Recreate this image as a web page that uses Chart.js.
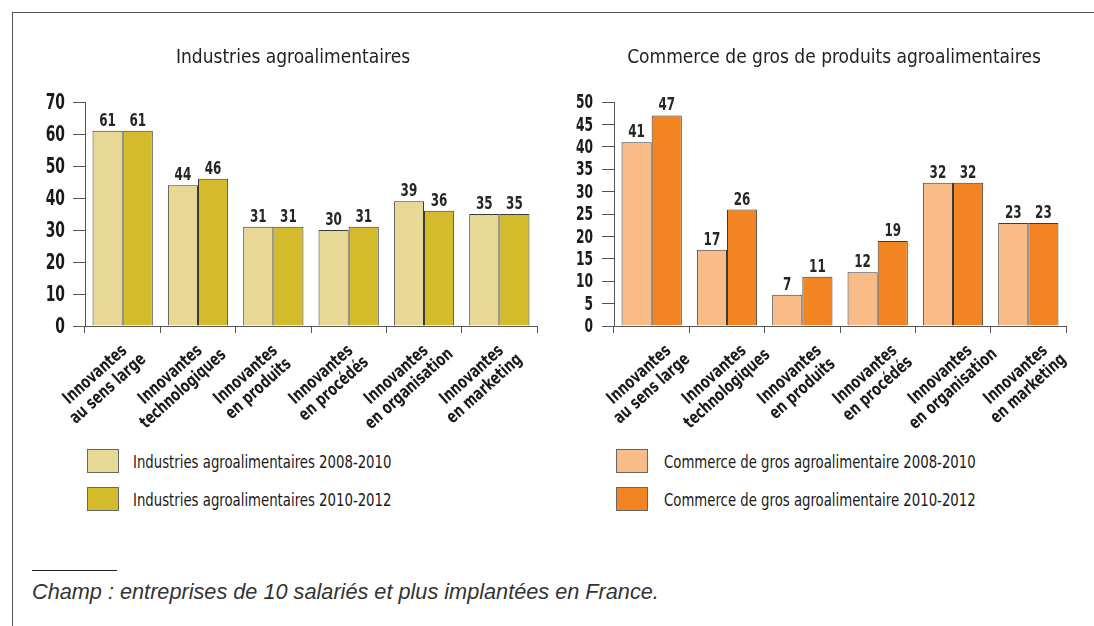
<!DOCTYPE html>
<html><head><meta charset="utf-8">
<script src="https://cdn.jsdelivr.net/npm/chart.js@4.4.0/dist/chart.umd.min.js"></script>
<style>
html,body{margin:0;padding:0;background:#fff;width:1094px;height:626px;overflow:hidden;position:relative;font-family:"DejaVu Sans Condensed",sans-serif;}
#frameTop{position:absolute;left:12px;top:12px;width:1082px;height:0;border-top:1px solid #555;}
#frameLeft{position:absolute;left:12px;top:12px;width:0;height:614px;border-left:1px solid #555;}
canvas{position:absolute;top:0;}
#c1{left:20px;}
#c2{left:574px;}
.item{position:absolute;height:24px;display:flex;align-items:center;font-size:18px;color:#1a1a1a;white-space:nowrap;}
.sw{width:30px;height:22px;border:1px solid #666;flex:none;}
.item span{display:inline-block;transform:scaleX(0.82);transform-origin:left center;}
#note{position:absolute;left:32px;top:579px;font-family:"Liberation Sans",Arial,sans-serif;font-style:italic;font-size:21.7px;color:#333;white-space:nowrap;}
#noteLine{position:absolute;left:32px;top:570px;width:85px;border-top:1px solid #222;}
</style></head>
<body>
<div id="frameTop"></div><div id="frameLeft"></div>
<canvas id="c1" width="546" height="440"></canvas>
<canvas id="c2" width="520" height="440"></canvas>
<div id="legends"></div>
<div id="noteLine"></div>
<div id="note">Champ : entreprises de 10 salariés et plus implantées en France.</div>
<script>
const categories = [
  ["Innovantes","au sens large"],
  ["Innovantes","technologiques"],
  ["Innovantes","en produits"],
  ["Innovantes","en procédés"],
  ["Innovantes","en organisation"],
  ["Innovantes","en marketing"]
];
const iaaTitle = "Industries agroalimentaires";
const cgTitle = "Commerce de gros de produits agroalimentaires";
const iaaNames = ["Industries agroalimentaires 2008-2010","Industries agroalimentaires 2010-2012"];
const cgNames = ["Commerce de gros agroalimentaire 2008-2010","Commerce de gros agroalimentaire 2010-2012"];
const iaa2008 = [61,44,31,30,39,35];
const iaa2010 = [61,46,31,31,36,35];
const cg2008 = [41,17,7,12,32,23];
const cg2010 = [47,26,11,19,32,23];
const iaaColors = ["#E8D896","#D3BB2B"];
const cgColors = ["#F9BC88","#F28522"];

const FONT = '"DejaVu Sans Condensed","DejaVu Sans",sans-serif';

// Draws value labels, y tick labels and x category labels in a condensed style,
// at positions given by the chart's own scales.
const condensedText = {
  id:'condensedText',
  afterDatasetsDraw(chart, args, o){
    const ctx = chart.ctx;
    ctx.save();
    ctx.fillStyle = '#262626';
    ctx.font = 'bold 18px ' + FONT;
    ctx.textAlign = 'center';
    ctx.textBaseline = 'alphabetic';
    chart.data.datasets.forEach((ds,i)=>{
      chart.getDatasetMeta(i).data.forEach((bar,j)=>{
        ctx.save();
        ctx.translate(bar.x, bar.y - 5);
        ctx.scale(0.74,1);
        ctx.fillText(String(ds.data[j]), 0, 0);
        ctx.restore();
      });
    });
    ctx.restore();
  },
  afterDraw(chart, args, o){
    const ctx = chart.ctx;
    const ys = chart.scales.y, xs = chart.scales.x;
    ctx.save();
    ctx.fillStyle = '#1a1a1a';
    ctx.font = 'bold ' + o.ySize + 'px ' + FONT;
    ctx.textAlign = 'right';
    ctx.textBaseline = 'middle';
    ys.ticks.forEach((t,i)=>{
      ctx.save();
      ctx.translate(ys.right - o.yGap, ys.getPixelForTick(i) + 1);
      ctx.scale(o.yScale,1);
      ctx.fillText(t.label, 0, 0);
      ctx.restore();
    });
    ctx.font = 'bold ' + o.xSize + 'px ' + FONT;
    ctx.textAlign = 'center';
    ctx.textBaseline = 'middle';
    xs.ticks.forEach((t,i)=>{
      const lines = [].concat(t.label);
      ctx.save();
      ctx.translate(xs.getPixelForTick(i) + o.xdx, xs.top + o.xdy);
      ctx.rotate(-o.angle*Math.PI/180);
      ctx.scale(o.xScale,1);
      const n = lines.length;
      lines.forEach((l,k)=> ctx.fillText(l, 0, (k-(n-1)/2)*o.lh));
      ctx.restore();
    });
    ctx.restore();
  }
};

function makeChart(id, title, names, s1, s2, colors, max, step, padLeft, yWidth, padRight, textOpts){
  return new Chart(document.getElementById(id), {
    type:'bar',
    data:{
      labels: categories,
      datasets:[
        {label:names[0], data:s1, backgroundColor:colors[0], borderColor:'#3a3a3a', borderWidth:1, barPercentage:1.0, categoryPercentage:0.8},
        {label:names[1], data:s2, backgroundColor:colors[1], borderColor:'#3a3a3a', borderWidth:1, barPercentage:1.0, categoryPercentage:0.8}
      ]
    },
    options:{
      responsive:false,
      animation:false,
      devicePixelRatio:1,
      layout:{padding:{left:padLeft,right:padRight,top:0,bottom:0}},
      plugins:{
        legend:{display:false},
        tooltip:{enabled:false},
        title:{display:true,text:title,color:'#222',font:{family:FONT,size:19,weight:'normal'},padding:{top:47,bottom:32.2}},
        condensedText:textOpts
      },
      scales:{
        x:{
          grid:{offset:true,drawOnChartArea:false,drawTicks:true,tickLength:7,color:'#555'},
          border:{display:true,color:'#555',width:1},
          ticks:{display:false,autoSkip:false},
          afterFit(s){ s.height = 114; s.paddingLeft = 0; s.paddingRight = 0; }
        },
        y:{
          min:0,max:max,
          ticks:{display:false,stepSize:step,autoSkip:false},
          grid:{drawOnChartArea:false,drawTicks:true,tickLength:12,color:'#555'},
          border:{display:true,color:'#555',width:1},
          afterFit(s){ s.width = yWidth; s.paddingTop = 0; s.paddingBottom = 0; }
        }
      }
    },
    plugins:[condensedText]
  });
}

makeChart('c1', iaaTitle, iaaNames, iaa2008, iaa2010, iaaColors, 70, 10, 29, 36, 29,
  {ySize:22, yScale:0.7, yGap:20, xSize:17.5, xScale:0.8, angle:42, lh:19, xdx:-21, xdy:56});
makeChart('c2', cgTitle, cgNames, cg2008, cg2010, cgColors, 50, 5, 28, 12, 28,
  {ySize:20, yScale:0.68, yGap:21, xSize:17.5, xScale:0.8, angle:42, lh:19, xdx:-6, xdy:56});

function legend(x, textX, names, colors){
  const tops = [449, 487];
  names.forEach((n,i)=>{
    const d = document.createElement('div');
    d.className = 'item';
    d.style.left = x + 'px';
    d.style.top = tops[i] + 'px';
    const sw = document.createElement('div');
    sw.className = 'sw';
    sw.style.background = colors[i];
    const t = document.createElement('span');
    t.textContent = n;
    t.style.marginLeft = (textX - x - 32) + 'px';
    d.appendChild(sw); d.appendChild(t);
    document.getElementById('legends').appendChild(d);
  });
}
legend(87, 133, iaaNames, iaaColors);
legend(616, 664, cgNames, cgColors);
</script>
</body></html>
